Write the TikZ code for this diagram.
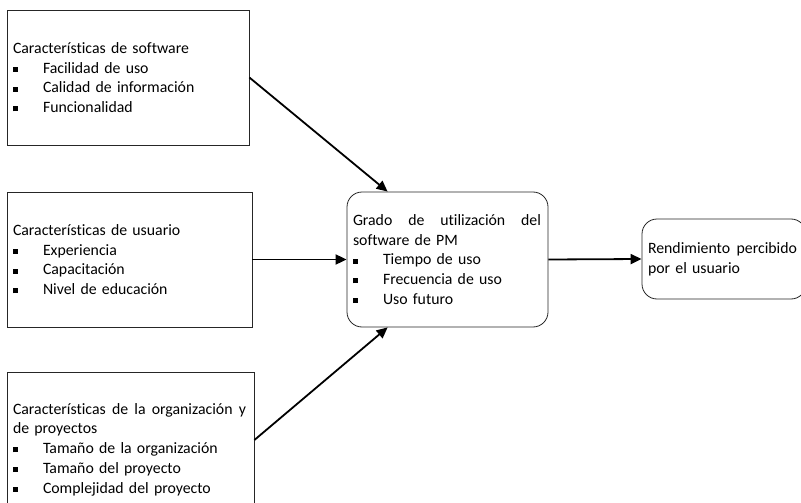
\documentclass[tikz,border=0pt]{standalone}
\usepackage{fontspec}
\setmainfont[Ligatures=NoCommon]{Carlito}
\usetikzlibrary{arrows.meta}
\newcommand\itm[1]{\makebox[30pt][l]{\rule[1.2pt]{5pt}{5pt}}#1}
\begin{document}
\begin{tikzpicture}[x=1pt,y=-1pt,
  box/.style={draw=black!85,line width=0.8pt,inner xsep=6pt,inner ysep=0pt,align=left,
    font=\fontsize{15.8}{19.7}\selectfont},
  rbox/.style={box,rounded corners=15pt},
  conn/.style={line width=1.8pt,-{Triangle[length=11pt,width=10pt]}}]
\useasboundingbox (0,0) rectangle (801,503);
\clip (0,0) rectangle (801,503);
\fill[white] (0,0) rectangle (801,503);
\node[box,minimum width=242pt,minimum height=135pt,text width=230pt] (b1) at (128,77.5)
  {Características de software\\\itm{Facilidad de uso}\\\itm{Calidad de información}\\\itm{Funcionalidad}};
\node[box,minimum width=245pt,minimum height=135pt,text width=233pt] (b2) at (129.5,259.5)
  {Características de usuario\\\itm{Experiencia}\\\itm{Capacitación}\\\itm{Nivel de educación}};
\node[box,minimum width=247pt,minimum height=155pt,text width=235pt] (b3) at (130.5,449.5)
  {\makebox[233pt][s]{Características\hfill de\hfill la\hfill organización\hfill y}\\de proyectos\\\itm{Tamaño de la organización}\\\itm{Tamaño del proyecto}\\\itm{Complejidad del proyecto}};
\node[rbox,minimum width=201pt,minimum height=135pt,text width=189pt] (c) at (447.5,259.5)
  {\makebox[188pt][s]{Grado\hfill de\hfill utilización\hfill del}\\software de PM\\\itm{Tiempo de uso}\\\itm{Frecuencia de uso}\\\itm{Uso futuro}};
\node[rbox,minimum width=164pt,minimum height=80pt,text width=152pt] (r) at (724,259)
  {\makebox[149pt][s]{Rendimiento\hfill percibido}\\por el usuario};
\draw[conn] (b1.east) -- ([xshift=41pt]c.north west);
\draw[conn] (b2.east) -- (c.west);
\draw[conn] ([yshift=9.5pt]b3.east) -- ([xshift=41pt]c.south west);
\draw[conn] (c.east) -- (r.west);
\end{tikzpicture}
\end{document}
